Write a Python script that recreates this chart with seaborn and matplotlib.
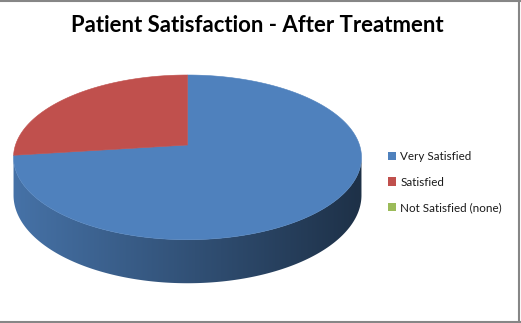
import numpy as np
import matplotlib
matplotlib.use("Agg")
import matplotlib.pyplot as plt
from matplotlib.patches import Polygon, Patch
from matplotlib.lines import Line2D
import seaborn as sns

# Survey results
categories = ["Very Satisfied", "Satisfied", "Not Satisfied (none)"]
values = [73, 27, 0]
colors = ["#4f81bd", "#c0504d", "#9bbb59"]
title = "Patient Satisfaction - After Treatment"

sns.set_theme(style="white")
plt.rcParams["font.family"] = ["Lato", "DejaVu Sans"]

W, H = 521, 323
fig = plt.figure(figsize=(W / 100, H / 100), dpi=100)
ax = fig.add_axes([0, 0, 1, 1])

# Let the pie routine lay out the slice angles on a unit disc
wedges, _ = ax.pie(values, colors=colors, startangle=90,
                   counterclock=False, radius=1, center=(0, 0))
for w in wedges:
    w.set_visible(False)

# Perspective view of the disc (screen pixels)
CX, CY = 187.5, 145.0
A, B, K = 172.0, 80.5, 0.15
DEPTH = 37.0


def project(u, v, drop=0.0):
    s = 1.0 / (1.0 + K * v)
    return CX + A * u * s, CY - B * v * s + drop * s


vis_lo = 180 + np.degrees(np.arcsin(K))
vis_hi = 360 - np.degrees(np.arcsin(K))

# Side wall: one outline per slice, filled with a left-to-right shading ramp
for w in wedges:
    if w.theta2 - w.theta1 <= 0:
        continue
    t1, t2 = w.theta1 % 360, w.theta2 % 360
    spans = [(t1, 360), (0, t2)] if t2 <= t1 else [(t1, t2)]
    rgb = np.array(matplotlib.colors.to_rgb(w.get_facecolor()))
    for a0, a1 in spans:
        lo, hi = max(a0, vis_lo), min(a1, vis_hi)
        if hi <= lo:
            continue
        th = np.radians(np.linspace(lo, hi, 300))
        u, v = np.cos(th), np.sin(th)
        xt, yt = project(u, v)
        xb, yb = project(u, v, DEPTH)
        pts = np.column_stack([np.r_[xt, xb[::-1]], np.r_[yt, yb[::-1]]])
        outline = Polygon(pts, closed=True, facecolor="none",
                          edgecolor="none", zorder=2)
        ax.add_patch(outline)
        x0, x1 = pts[:, 0].min() - 1, pts[:, 0].max() + 1
        y0, y1 = pts[:, 1].min() - 1, pts[:, 1].max() + 1
        xs = np.linspace(x0, x1, 400)
        uu = np.clip((xs - CX) / A, -1, 1)
        f = 0.88 - 0.25 * (uu + 1.0)
        ramp = np.clip(rgb[None, :] * f[:, None], 0, 1)[None, :, :]
        im = ax.imshow(ramp, extent=(x0, x1, y1, y0), aspect="auto",
                       interpolation="bilinear", zorder=2)
        im.set_clip_path(outline)

# Top face of every slice
handles = []
for w, lab in zip(wedges, categories):
    rgb = matplotlib.colors.to_rgb(w.get_facecolor())
    if w.theta2 - w.theta1 > 0:
        th = np.radians(np.linspace(w.theta1, w.theta2, 240))
        u = np.r_[0.0, np.cos(th)]
        v = np.r_[0.0, np.sin(th)]
        x, y = project(u, v)
        ax.add_patch(Polygon(np.column_stack([x, y]), closed=True,
                             facecolor=rgb, edgecolor=rgb, lw=0.4, zorder=3))
    handles.append(Patch(facecolor=rgb, edgecolor="none", label=lab))

ax.set_aspect("auto")
ax.set_xlim(0, W)
ax.set_ylim(H, 0)
ax.axis("off")

fig.text(257.5 / W, 1 - 25 / H, title, ha="center", va="center",
         fontsize=15.9, fontweight="bold", color="black")

ax.legend(handles=handles, labels=categories, loc="upper left",
          bbox_to_anchor=(388 / W, 1 - 151 / H), frameon=False,
          fontsize=8.4, handlelength=0.7, handleheight=0.7,
          handletextpad=0.35, labelspacing=1.25, borderpad=0,
          borderaxespad=0, labelcolor="#1a1a1a")

# Chart area border
for xs, ys in [((0, 1), (1 - 0.5 / H,) * 2),
               ((0, 1), (1.5 / H,) * 2),
               ((1 - 2 / W,) * 2, (0, 1))]:
    fig.add_artist(Line2D(xs, ys, color="#868686", lw=1.5,
                          transform=fig.transFigure))

fig.savefig("out.png", dpi=100, facecolor="white")
